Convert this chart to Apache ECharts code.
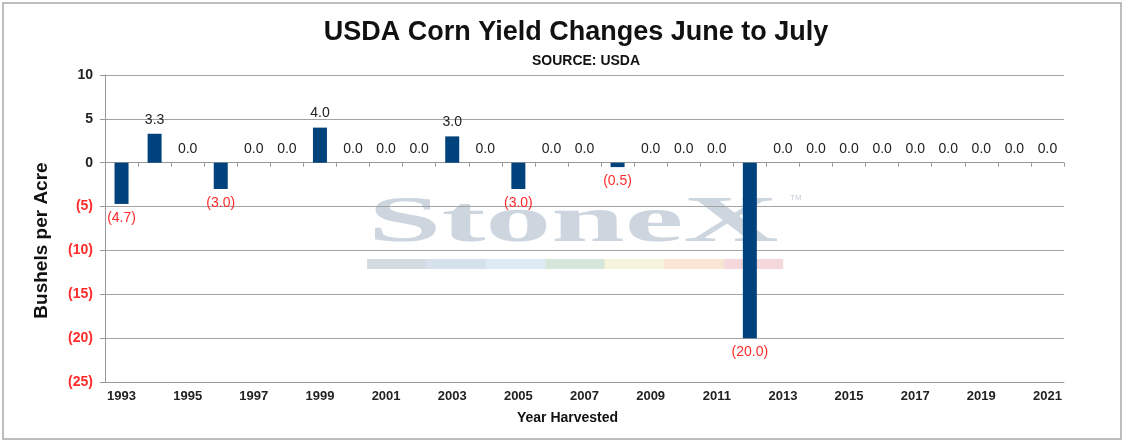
<!DOCTYPE html>
<html>
<head>
    <meta charset="UTF-8">
    <title>USDA Corn Yield Changes</title>
    <script type="text/javascript" src="https://cdn.jsdelivr.net/npm/echarts@6/dist/echarts.min.js"></script>
</head>
<style>
    html, body {
        margin: 0;
        padding: 0;
        background: #fff;
    }
    .main {
        width: 1125px;
        height: 444px;
    }
</style>
<body>
<div id="charts" class="main"></div>
<script type="text/javascript">
    // harvest years on the x axis
    var years = ['1993', '1994', '1995', '1996', '1997', '1998', '1999', '2000', '2001', '2002',
        '2003', '2004', '2005', '2006', '2007', '2008', '2009', '2010', '2011', '2012',
        '2013', '2014', '2015', '2016', '2017', '2018', '2019', '2020', '2021'];
    // June -> July change, bushels per acre
    var yieldChange = [-4.7, 3.3, 0.0, -3.0, 0.0, 0.0, 4.0, 0.0, 0.0, 0.0,
        3.0, 0.0, -3.0, 0.0, 0.0, -0.5, 0.0, 0.0, 0.0, -20.0,
        0.0, 0.0, 0.0, 0.0, 0.0, 0.0, 0.0, 0.0, 0.0];
    var yMin = -25, yMax = 10, yStep = 5;

    var font = 'Liberation Sans, Arial, sans-serif';
    var red = '#ff2a2a';

    function fmt(v, digits) {
        var s = digits ? Math.abs(v).toFixed(digits) : String(Math.abs(v));
        return v < 0 ? '(' + s + ')' : s;
    }

    var barData = [];
    for (var i = 0; i < yieldChange.length; i++) {
        var v = yieldChange[i];
        barData.push({
            value: v,
            label: {
                position: v < 0 ? 'bottom' : 'top',
                color: v < 0 ? red : '#222'
            }
        });
    }

    // watermark strip colours
    var stripColors = ['#d3dbe3', '#d7e1eb', '#deeaf4', '#d6e6da', '#f7f4dc', '#f9e7d3', '#f4d8dc'];
    var strip = [];
    for (var k = 0; k < stripColors.length; k++) {
        strip.push({
            type: 'rect', z: -10, silent: true,
            shape: {x: 367 + k * 59.4, y: 259, width: 59.8, height: 10},
            style: {fill: stripColors[k]}
        });
    }

    var myChart = echarts.init(document.getElementById('charts'));
    var option = {
        animation: false,
        textStyle: {fontFamily: font},
        title: [
            {
                text: 'USDA Corn Yield Changes June to July',
                left: 571, top: 14, textAlign: 'center',
                textStyle: {fontSize: 27, fontWeight: 'bold', color: '#111', fontFamily: font}
            },
            {
                text: 'SOURCE: USDA',
                left: 581, top: 49, textAlign: 'center',
                textStyle: {fontSize: 14, fontWeight: 'bold', color: '#111', fontFamily: font}
            }
        ],
        grid: {left: 105, right: 61, top: 75, bottom: 62},
        xAxis: [
            {
                type: 'category',
                data: years,
                position: 'bottom',
                name: 'Year Harvested',
                nameLocation: 'middle',
                nameGap: 29,
                nameTextStyle: {fontSize: 14, fontWeight: 'bold', color: '#111', padding: [0, 34, 0, 0]},
                axisLine: {onZero: false, lineStyle: {color: '#999'}},
                axisTick: {show: false},
                axisLabel: {interval: 1, fontSize: 13, fontWeight: 'bold', color: '#222', margin: 8}
            },
            {
                type: 'category',
                data: years,
                position: 'bottom',
                axisLine: {onZero: true, lineStyle: {color: '#999'}},
                axisTick: {show: true, interval: 0, length: 4, lineStyle: {color: '#999'}},
                axisLabel: {show: false}
            }
        ],
        yAxis: {
            type: 'value',
            min: yMin, max: yMax, interval: yStep,
            name: 'Bushels per Acre',
            nameLocation: 'middle',
            nameRotate: 90,
            nameGap: 54,
            nameTextStyle: {fontSize: 19, fontWeight: 'bold', color: '#111', padding: [0, 24, 0, 0]},
            axisLine: {show: true, lineStyle: {color: '#999'}},
            axisTick: {show: true, length: 5, lineStyle: {color: '#999'}},
            splitLine: {lineStyle: {color: '#a3a3a3', width: 1.2}},
            axisLabel: {
                fontSize: 14, fontWeight: 'bold', margin: 12,
                formatter: function (v) { return fmt(v); },
                color: function (v) { return Number(v) < 0 ? red : '#222'; }
            }
        },
        graphic: [
            {
                type: 'rect', silent: true, z: 100,
                shape: {x: 3, y: 3, width: 1118, height: 436},
                style: {fill: 'none', stroke: '#a8a8a8', lineWidth: 1.5}
            },
            {
                type: 'text', z: -10, silent: true,
                x: 368, y: 257, scaleX: 2.0,
                style: {
                    text: 'StoneX',
                    font: 'bold 66px "Liberation Serif", "DejaVu Serif", serif',
                    fill: '#cdd6df',
                    textAlign: 'left', textVerticalAlign: 'bottom'
                }
            },
            {
                type: 'text', z: -10, silent: true,
                x: 790, y: 194,
                style: {text: 'TM', font: '8px ' + font, fill: '#c5ced7'}
            }
        ].concat(strip),
        series: [
            {
                type: 'bar',
                data: barData,
                barWidth: 14,
                itemStyle: {color: '#00427c'},
                label: {
                    show: true,
                    distance: 7,
                    fontSize: 14,
                    fontFamily: font,
                    formatter: function (p) { return fmt(p.value, 1); }
                }
            }
        ]
    };
    option && myChart.setOption(option);
</script>
</body>
</html>
